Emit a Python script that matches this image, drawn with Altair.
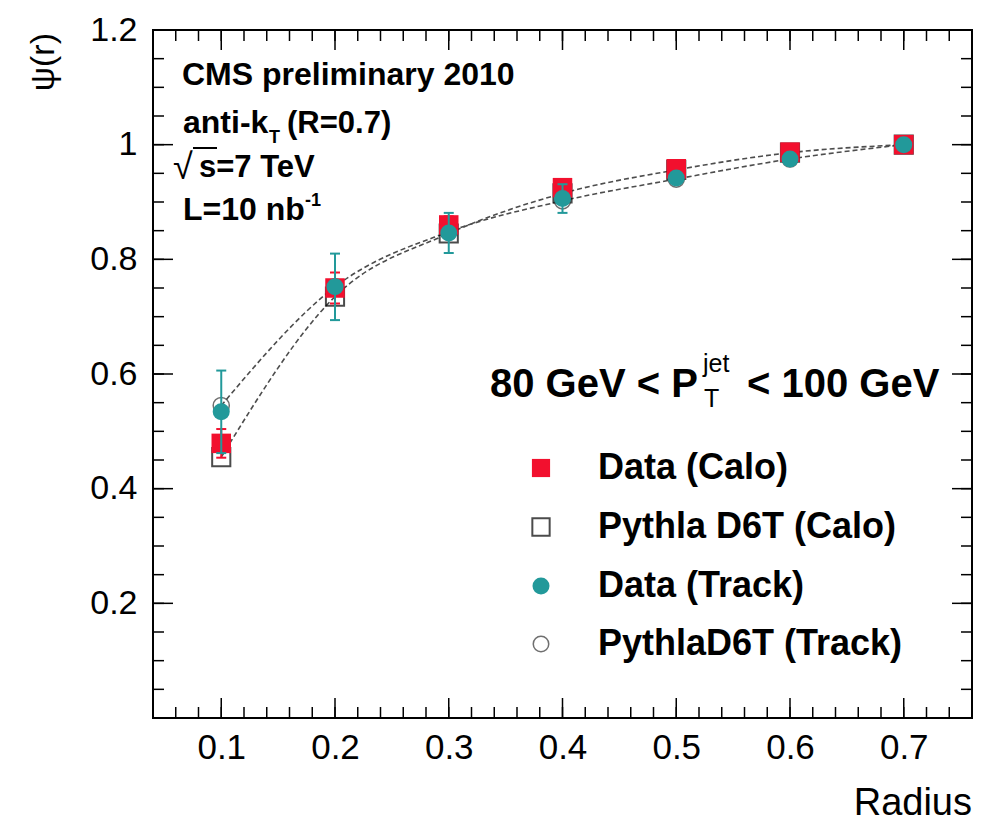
import altair as alt
import pandas as pd

# ---------------- data ----------------
radius = [0.1, 0.2, 0.3, 0.4, 0.5, 0.6, 0.7]
data_calo = [0.479, 0.750, 0.860, 0.925, 0.958, 0.987, 1.0]
data_calo_err = [0.025, 0.027, 0.015, 0.010, 0.006, 0.004, 0.0]
pythia_calo = [0.455, 0.735, 0.845, 0.915, 0.956, 0.986, 1.0]
data_track = [0.534, 0.752, 0.846, 0.906, 0.942, 0.975, 1.0]
data_track_err = [0.072, 0.058, 0.035, 0.025, 0.008, 0.005, 0.003]
pythia_track = [0.545, 0.752, 0.848, 0.902, 0.940, 0.975, 1.0]

legend_labels = ["Data (Calo)", "Pythla D6T (Calo)", "Data (Track)", "PythlaD6T (Track)"]

x_major = [0.1, 0.2, 0.3, 0.4, 0.5, 0.6, 0.7]
x_minor = [round(0.04 + 0.02 * i, 2) for i in range(37)]
y_major = [0.2, 0.4, 0.6, 0.8, 1.0, 1.2]
y_minor = [round(0.05 * i, 2) for i in range(1, 24)]

# ---------------- layout / style ----------------
W, H = 819, 688
RED = "#f2102e"
TEAL = "#22999a"
FONT = "Liberation Sans"

xs = alt.Scale(domain=[0.04, 0.76], nice=False, zero=False)
ys = alt.Scale(domain=[0.0, 1.2], nice=False, zero=False)

x_axis = alt.Axis(
    values=x_major, format=".1f", ticks=False, domain=False, grid=False,
    labelFont="Liberation Sans Narrow, Liberation Sans", labelFontSize=35,
    labelColor="black", labelPadding=12, title=None)
y_axis = alt.Axis(
    values=y_major, format=".1~f", ticks=False, domain=False, grid=False,
    labelFont=FONT, labelFontSize=34, labelColor="black", labelPadding=16,
    title=None)


def XQ(field):
    return alt.X(field, type="quantitative", scale=xs, axis=x_axis)


def YQ(field):
    return alt.Y(field, type="quantitative", scale=ys, axis=y_axis)


df = pd.DataFrame({
    "r": radius,
    "calo": data_calo,
    "calo_lo": [v - e for v, e in zip(data_calo, data_calo_err)],
    "calo_hi": [v + e for v, e in zip(data_calo, data_calo_err)],
    "pcalo": pythia_calo,
    "track": data_track,
    "track_lo": [v - e for v, e in zip(data_track, data_track_err)],
    "track_hi": [v + e for v, e in zip(data_track, data_track_err)],
    "ptrack": pythia_track,
})

lines_df = pd.concat([
    pd.DataFrame({"r": radius, "v": pythia_calo, "s": "calo"}),
    pd.DataFrame({"r": radius, "v": pythia_track, "s": "track"}),
])

base = alt.Chart(df)

lines = alt.Chart(lines_df).mark_line(
    color="#4d4d4d", strokeWidth=1.6, strokeDash=[5, 3], interpolate="monotone"
).encode(x=XQ("r"), y=YQ("v"), detail="s:N")

open_sq = base.mark_point(shape="square", filled=False, color="black", strokeWidth=2, size=330).encode(
    x=XQ("r"), y=YQ("pcalo"))
open_ci = base.mark_point(shape="circle", filled=False, color="#333333", strokeWidth=1.5, size=260).encode(
    x=XQ("r"), y=YQ("ptrack"))

CAP = "M-1,0L1,0"
calo_err = base.mark_rule(color=RED, strokeWidth=2).encode(x=XQ("r"), y=YQ("calo_lo"), y2="calo_hi:Q")
calo_cap_hi = base.mark_point(shape=CAP, filled=False, color=RED, strokeWidth=2, size=100, opacity=1).encode(
    x=XQ("r"), y=YQ("calo_hi"))
calo_cap_lo = base.mark_point(shape=CAP, filled=False, color=RED, strokeWidth=2, size=100, opacity=1).encode(
    x=XQ("r"), y=YQ("calo_lo"))
calo_pts = base.mark_square(color=RED, size=380, opacity=1).encode(x=XQ("r"), y=YQ("calo"))

track_err = base.mark_rule(color=TEAL, strokeWidth=2).encode(x=XQ("r"), y=YQ("track_lo"), y2="track_hi:Q")
track_cap_hi = base.mark_point(shape=CAP, filled=False, color=TEAL, strokeWidth=2, size=100, opacity=1).encode(
    x=XQ("r"), y=YQ("track_hi"))
track_cap_lo = base.mark_point(shape=CAP, filled=False, color=TEAL, strokeWidth=2, size=100, opacity=1).encode(
    x=XQ("r"), y=YQ("track_lo"))
track_pts = base.mark_circle(color=TEAL, size=290, opacity=1).encode(x=XQ("r"), y=YQ("track"))


# inward ticks on all four sides
def xticks(vals, length):
    d = alt.Chart(pd.DataFrame({"v": vals}))
    bot = d.mark_rule(color="black", strokeWidth=1.5).encode(
        x=XQ("v"), y=alt.value(H), y2=alt.value(H - length))
    top = d.mark_rule(color="black", strokeWidth=1.5).encode(
        x=XQ("v"), y=alt.value(0), y2=alt.value(length))
    return [bot, top]


def yticks(vals, length):
    d = alt.Chart(pd.DataFrame({"v": vals}))
    left = d.mark_rule(color="black", strokeWidth=1.5).encode(
        y=YQ("v"), x=alt.value(0), x2=alt.value(length))
    right = d.mark_rule(color="black", strokeWidth=1.5).encode(
        y=YQ("v"), x=alt.value(W), x2=alt.value(W - length))
    return [left, right]


tick_layers = xticks(x_minor, 11) + xticks(x_major, 20) + yticks(y_minor, 11) + yticks(y_major, 20)

dummy = alt.Chart(pd.DataFrame({"a": [0]}))

frame = dummy.mark_rect(fill="transparent", stroke="black", strokeWidth=2).encode(
    x=alt.value(0), x2=alt.value(W), y=alt.value(0), y2=alt.value(H))


def txt(s, x, y, size, weight="bold", align="left", baseline="alphabetic", angle=0, font=FONT):
    kw = dict(text=s, fontSize=size, fontWeight=weight, align=align, baseline=baseline,
              font=font, color="black")
    if angle:
        kw["angle"] = angle
    return dummy.mark_text(**kw).encode(x=alt.value(x), y=alt.value(y))


texts = [
    txt("CMS preliminary 2010", 29, 55, 32),
    txt("anti-k", 30, 103, 32),
    txt("T", 116, 113, 18),
    txt("(R=0.7)", 134, 103, 31),
    txt("√", 20, 149, 36, weight="normal"),
    txt("s=7 TeV", 46, 147, 31),
    txt("L=10 nb", 30, 190, 32),
    txt("-1", 152, 176, 18),
    txt("80 GeV < P", 337, 367, 40),
    txt("jet", 550, 342, 25, weight="normal"),
    txt("T", 551, 377, 25, weight="normal"),
    txt("< 100 GeV", 594, 367, 40),
    txt("Radius", W, H + 97, 38, weight="normal", align="right"),
    txt("ψ(r)", -109, 3, 34, weight="normal", align="right", baseline="middle", angle=270),
]

sqrt_bar = dummy.mark_rule(color="black", strokeWidth=2).encode(
    x=alt.value(40), x2=alt.value(64), y=alt.value(118))

# legend
LX, LT = 388, 445
rows = [438, 497, 556, 614]
legend = [
    dummy.mark_square(color=RED, size=330, opacity=1).encode(x=alt.value(LX), y=alt.value(rows[0])),
    dummy.mark_point(shape="square", filled=False, color="black", strokeWidth=2, size=300).encode(
        x=alt.value(LX), y=alt.value(rows[1])),
    dummy.mark_circle(color=TEAL, size=290, opacity=1).encode(x=alt.value(LX), y=alt.value(rows[2])),
    dummy.mark_point(shape="circle", filled=False, color="#333333", strokeWidth=1.5, size=240).encode(
        x=alt.value(LX), y=alt.value(rows[3])),
]
for lab, ry in zip(legend_labels, rows):
    legend.append(txt(lab, LT, ry + 11, 36))

chart = alt.layer(
    lines, open_sq, open_ci,
    calo_err, calo_cap_hi, calo_cap_lo, calo_pts,
    track_err, track_cap_hi, track_cap_lo, track_pts,
    *tick_layers, frame, *texts, sqrt_bar, *legend,
).properties(
    width=W, height=H,
    autosize=alt.AutoSizeParams(type="none"),
    padding={"left": 153, "top": 30, "right": 13, "bottom": 112},
    background="white",
).configure_view(
    stroke="black", strokeWidth=2
).configure(font=FONT)

chart.save("out.html", embed_options={"renderer": "svg", "actions": False})
